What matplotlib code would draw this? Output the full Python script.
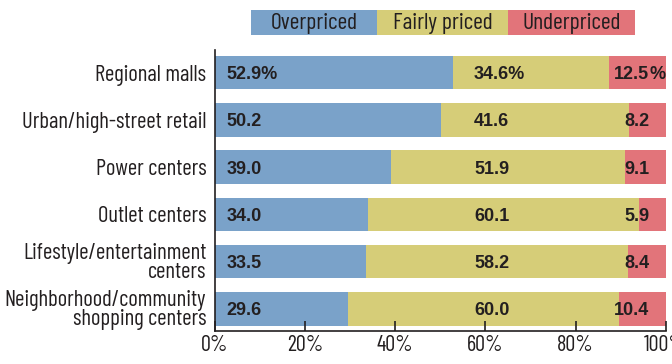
import matplotlib
matplotlib.use("Agg")
import matplotlib.pyplot as plt
from matplotlib.patches import Rectangle

categories = [
    "Regional malls",
    "Urban/high-street retail",
    "Power centers",
    "Outlet centers",
    "Lifestyle/entertainment\ncenters",
    "Neighborhood/community\nshopping centers",
]
overpriced = [52.9, 50.2, 39.0, 34.0, 33.5, 29.6]
fairly_priced = [34.6, 41.6, 51.9, 60.1, 58.2, 60.0]
underpriced = [12.5, 8.2, 9.1, 5.9, 8.4, 10.4]
series_names = ["Overpriced", "Fairly priced", "Underpriced"]
x_ticks = [0, 20, 40, 60, 80, 100]

colors = ["#7aa2c9", "#d6cd78", "#e2747a"]
text_color = "#231f20"
cond = ["Barlow Condensed", "DejaVu Sans"]
bold = ["Liberation Sans", "DejaVu Sans"]

W, H = 672, 364
fig = plt.figure(figsize=(W / 100, H / 100), dpi=100)
ax = fig.add_axes([214.7 / W, 33 / H, 451 / W, 281 / H])

ys = list(range(len(categories)))
series = [overpriced, fairly_priced, underpriced]
left = [0.0] * len(categories)
for vals, c in zip(series, colors):
    ax.barh(ys, vals, left=left, height=0.71, color=c, edgecolor="none")
    left = [l + v for l, v in zip(left, vals)]

ax.set_xlim(0, 100)
ax.set_ylim(5.47, -0.48)
ax.set_xticks(x_ticks)
ax.set_xticklabels([f"{t}%" for t in x_ticks], family=cond, fontsize=16, color=text_color)
ax.set_yticks(ys)
ax.set_yticklabels(categories, family=cond, fontsize=16.3, color=text_color, linespacing=0.85)
ax.tick_params(axis="x", direction="in", length=7, width=1.2, colors="#231f20", pad=3)
ax.tick_params(axis="y", length=0, pad=6)
for s in ("top", "right"):
    ax.spines[s].set_visible(False)
for s in ("left", "bottom"):
    ax.spines[s].set_linewidth(1.2)
    ax.spines[s].set_color("#231f20")


def fmt(v):
    return f"{v:.1f}"


lab_kw = dict(family=bold, fontsize=13, fontweight="bold", color=text_color, va="center_baseline")
for i in ys:
    suffix = "%" if i == 0 else ""
    ax.text(2.6, i, fmt(overpriced[i]) + suffix, ha="left", **lab_kw)
    ax.text(57.5, i, fmt(fairly_priced[i]) + suffix, ha="left", **lab_kw)
    ax.text(96.4, i, fmt(underpriced[i]), ha="right", **lab_kw)
    if suffix:
        ax.text(96.4, i, suffix, ha="left", **lab_kw)

# legend row across the top
edges = [251, 377, 508, 635]
for k, name in enumerate(series_names):
    x0, x1 = edges[k], edges[k + 1]
    fig.patches.append(Rectangle((x0 / W, 1 - 35 / H), (x1 - x0) / W, 25 / H,
                                 transform=fig.transFigure, color=colors[k], lw=0))
    fig.text((x0 + x1) / 2 / W, 1 - 28.5 / H, name, ha="center", va="baseline",
             family=cond, fontsize=17, color=text_color)

fig.savefig("out.png", dpi=100)
